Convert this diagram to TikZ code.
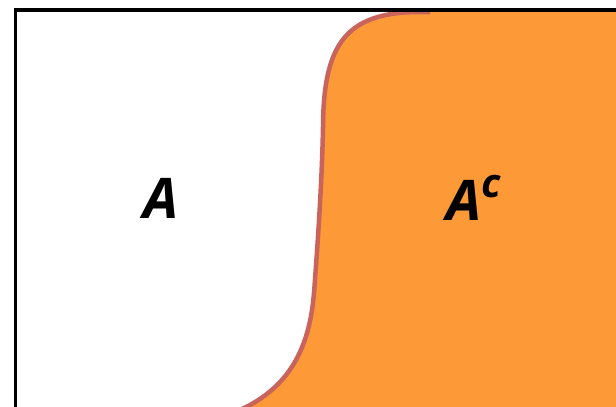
\documentclass[tikz,border=0pt]{standalone}
\usepackage{fontspec}
\setmainfont{Open Sans}
\definecolor{setorange}{HTML}{FD9936}
\definecolor{edgered}{HTML}{C8645C}
\tikzset{
  setlabel/.style={font=\fontsize{56}{60}\selectfont\bfseries\itshape, text=black, inner sep=0pt},
  frame/.style={draw=black, line width=3.5pt},
  boundary/.style={draw=edgered, line width=4.5pt}
}
\begin{document}
\begin{tikzpicture}[x=1pt,y=-1pt]
\useasboundingbox (0,0) rectangle (616,407);
\clip (0,0) rectangle (616,407);
\fill[white] (0,0) rectangle (616,407);
% complement region
\fill[setorange] (240,410) .. controls (295,385) and (310,340) .. (314,293)
  .. controls (318,240) and (322,180) .. (323,127)
  .. controls (323.5,45) and (345,12) .. (420,12)
  -- (620,12) -- (620,410) -- cycle;
\draw[boundary] (236,412) -- (240,410) .. controls (295,385) and (310,340) .. (314,293)
  .. controls (318,240) and (322,180) .. (323,127)
  .. controls (323.5,45) and (345,12) .. (420,12) -- (430,12);
% frame
\draw[frame] (15.5,420) -- (15.5,10) -- (630,10);
% labels
\node[setlabel] (a) at (161,198) {A};
\node[setlabel] (ac) at (474,198) {A\raisebox{0.42em}{\fontsize{40}{40}\selectfont c}};
\end{tikzpicture}
\end{document}
